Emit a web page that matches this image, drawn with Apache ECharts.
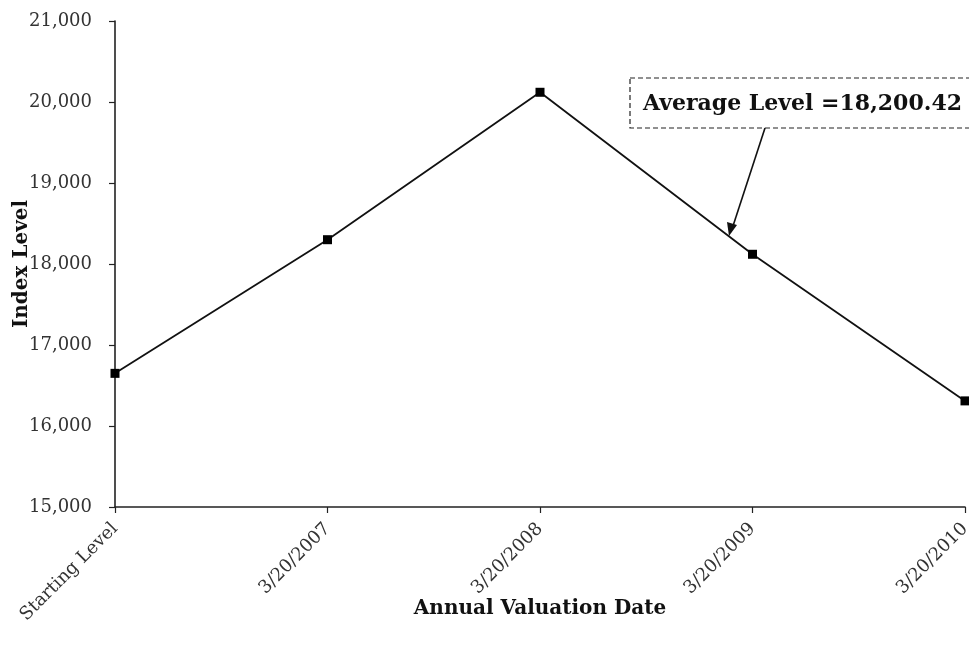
<!DOCTYPE html>
<html><head><meta charset="utf-8">
<script src="https://cdn.jsdelivr.net/npm/echarts@6/dist/echarts.min.js"></script>
<style>html,body{margin:0;padding:0;background:#fff}#c{width:969px;height:646px}</style>
</head><body><div id="c"></div>
<script>
const categories = ['Starting Level', '3/20/2007', '3/20/2008', '3/20/2009', '3/20/2010'];
const indexLevels = [16650, 18300, 20120, 18120, 16310];
const yTicks = { min: 15000, max: 21000, interval: 1000 };
const annotationText = 'Average Level =18,200.42';

const serif = '"DejaVu Serif", "Liberation Serif", serif';
const chart = echarts.init(document.getElementById('c'));
chart.setOption({
  animation: false,
  backgroundColor: '#fff',
  grid: { left: 115, right: 4, top: 21, bottom: 139, containLabel: false, outerBoundsMode: 'none' },
  xAxis: {
    type: 'category', data: categories, boundaryGap: false,
    name: 'Annual Valuation Date', nameLocation: 'middle', nameGap: 92, nameMoveOverlap: false,
    nameTextStyle: { fontFamily: serif, fontWeight: 'bold', fontSize: 20, color: '#111' },
    axisLine: { lineStyle: { color: '#222', width: 1.6 } },
    axisTick: { show: true, length: 6, lineStyle: { color: '#222', width: 1.2 }, alignWithLabel: true },
    axisLabel: { rotate: 45, fontFamily: serif, fontSize: 18, color: '#333', margin: 19, interval: 0 },
    splitLine: { show: false }
  },
  yAxis: {
    type: 'value', min: yTicks.min, max: yTicks.max, interval: yTicks.interval,
    name: 'Index Level', nameLocation: 'middle', nameGap: 83, nameRotate: 90, nameMoveOverlap: false,
    nameTextStyle: { fontFamily: serif, fontWeight: 'bold', fontSize: 20, color: '#111' },
    axisLine: { show: true, lineStyle: { color: '#222', width: 1.6 } },
    axisTick: { show: true, length: 6, lineStyle: { color: '#222', width: 1.2 } },
    axisLabel: { fontFamily: serif, fontSize: 18, color: '#333', margin: 23,
      formatter: v => v.toLocaleString('en-US') },
    splitLine: { show: false }
  },
  series: [{
    type: 'line', data: indexLevels,
    lineStyle: { color: '#111', width: 1.8 },
    itemStyle: { color: '#000' },
    symbol: 'rect', symbolSize: 9, showSymbol: true
  }],
  graphic: [
    { type: 'rect', shape: { x: 630, y: 78, width: 345, height: 50 },
      style: { fill: '#fff', stroke: '#222', lineWidth: 1.2, lineDash: [5, 3] }, z: 10 },
    { type: 'text', x: 643, y: 104,
      style: { text: annotationText, font: 'bold 22px ' + serif, fill: '#111', textVerticalAlign: 'middle' }, z: 11 },
    { type: 'line', shape: { x1: 765, y1: 128, x2: 733, y2: 226 },
      style: { stroke: '#111', lineWidth: 1.6 }, z: 11 },
    { type: 'polygon', shape: { points: [[729, 236], [727, 222], [737, 225]] },
      style: { fill: '#111' }, z: 11 }
  ]
});
</script></body></html>
